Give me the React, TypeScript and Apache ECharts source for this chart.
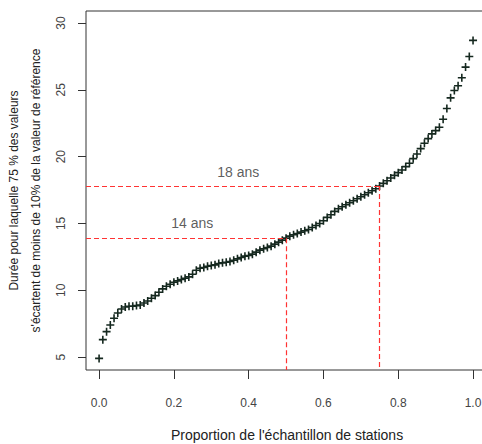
import React, { useEffect, useRef } from "react";
import * as echarts from "echarts";

// Durée (ans) lue pour chaque proportion de l'échantillon (0.00 → 1.00, pas 0.01)
const durations: number[] = [
  4.9, 6.3, 6.9, 7.4, 7.9, 8.3, 8.6, 8.75, 8.8, 8.8,
  8.85, 8.9, 9.05, 9.2, 9.4, 9.6, 9.85, 10.1, 10.3, 10.45,
  10.6, 10.7, 10.8, 10.9, 11.0, 11.2, 11.5, 11.65, 11.7, 11.8,
  11.85, 11.9, 12.0, 12.05, 12.1, 12.15, 12.25, 12.35, 12.45, 12.55,
  12.6, 12.7, 12.85, 13.0, 13.1, 13.2, 13.3, 13.45, 13.6, 13.75,
  13.9, 14.05, 14.15, 14.25, 14.35, 14.45, 14.55, 14.7, 14.85, 15.0,
  15.2, 15.45, 15.65, 15.9, 16.1, 16.25, 16.4, 16.55, 16.7, 16.85,
  17.0, 17.15, 17.3, 17.45, 17.6, 17.8, 18.0, 18.2, 18.4, 18.6,
  18.8, 19.0, 19.25, 19.5, 19.85, 20.2, 20.6, 21.0, 21.35, 21.7,
  21.95, 22.2, 22.8, 23.6, 24.4, 24.95, 25.3, 25.9, 26.7, 27.5,
  28.7,
];

const xTicks: number[] = [0, 0.2, 0.4, 0.6, 0.8, 1.0];
const yTicks: number[] = [5, 10, 15, 20, 25, 30];

const refProportions: number[] = [0.5, 0.75];
const refDurations: number[] = [13.9, 17.8];
const refLabels: string[] = ["14 ans", "18 ans"];
const refLabelX: number[] = [0.249, 0.372];
const refLabelY: number[] = [15.0, 18.85];

const X_MIN = -0.035;
const X_MAX = 1.04;
const Y_MIN = 4.03;
const Y_MAX = 30.9;

const PLUS = "path://M4,0 H6 V4 H10 V6 H6 V10 H4 V6 H0 V4 H4 Z";
const FONT = "Liberation Sans, Arial, sans-serif";

export default function App() {
  const ref = useRef<HTMLDivElement>(null);

  useEffect(() => {
    if (!ref.current) return;
    const chart = echarts.init(ref.current, null, { renderer: "svg" });
    const n = durations.length;
    const points = durations.map((v, i) => [i / (n - 1), v]);

    const markData: any[] = [];
    refProportions.forEach((p, i) => {
      markData.push([{ coord: [X_MIN, refDurations[i]] }, { coord: [p, refDurations[i]] }]);
      markData.push([{ coord: [p, refDurations[i]] }, { coord: [p, Y_MIN] }]);
    });

    chart.setOption({
      animation: false,
      backgroundColor: "#ffffff",
      grid: {
        left: 86,
        top: 11,
        right: -6,
        bottom: 74,
        containLabel: false,
        outerBoundsMode: "none",
        show: true,
        borderColor: "#333",
        borderWidth: 1,
        backgroundColor: "transparent",
      },
      xAxis: {
        type: "value",
        min: X_MIN,
        max: X_MAX,
        splitLine: { show: false },
        axisLine: { show: false, onZero: false },
        axisTick: {
          show: true,
          length: 9,
          customValues: xTicks,
          lineStyle: { color: "#333", width: 1 },
        },
        axisLabel: {
          customValues: xTicks,
          formatter: (v: number) => v.toFixed(1),
          margin: 27,
          fontSize: 12,
          color: "#444",
          fontFamily: FONT,
        },
        name: "Proportion de l'échantillon de stations",
        nameLocation: "middle",
        nameGap: 58,
        nameTextStyle: { fontSize: 14, color: "#222", fontFamily: FONT },
      },
      yAxis: {
        type: "value",
        min: Y_MIN,
        max: Y_MAX,
        splitLine: { show: false },
        axisLine: { show: false, onZero: false },
        axisTick: {
          show: true,
          length: 8,
          customValues: yTicks,
          lineStyle: { color: "#333", width: 1 },
        },
        axisLabel: {
          customValues: yTicks,
          rotate: 90,
          margin: 19,
          fontSize: 12,
          color: "#444",
          fontFamily: FONT,
        },
        name:
          "Durée pour laquelle 75 % des valeurs\ns'écartent de moins de 10% de la valeur de référence",
        nameLocation: "middle",
        nameRotate: 90,
        nameGap: 38,
        nameTextStyle: { fontSize: 12, color: "#222", fontFamily: FONT, lineHeight: 22 },
      },
      series: [
        {
          type: "scatter",
          data: points,
          symbol: PLUS,
          symbolSize: 8,
          itemStyle: { color: "#15281f", opacity: 1 },
          markLine: {
            silent: true,
            symbol: ["none", "none"],
            label: { show: false },
            lineStyle: { color: "#ff3333", type: [5, 3], width: 1.2, opacity: 1 },
            emphasis: { disabled: true },
            data: markData,
          },
          z: 3,
        },
        {
          type: "scatter",
          data: refLabels.map((t, i) => ({ value: [refLabelX[i], refLabelY[i]], name: t })),
          symbolSize: 0,
          itemStyle: { color: "transparent" },
          label: {
            show: true,
            position: "inside",
            formatter: (p: any) => p.name,
            fontSize: 14,
            color: "#333",
            fontFamily: FONT,
          },
          z: 4,
        },
      ],
    });
    return () => chart.dispose();
  }, []);

  return (
    <div
      ref={ref}
      style={{ position: "absolute", left: 0, top: 0, width: 482, height: 444 }}
    />
  );
}
